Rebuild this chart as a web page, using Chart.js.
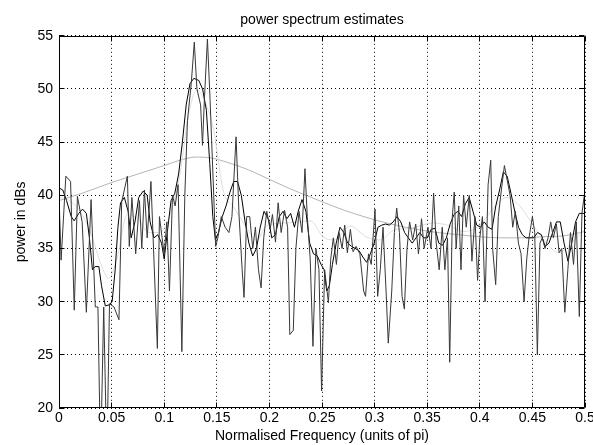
<!DOCTYPE html>
<html>
<head>
<meta charset="utf-8">
<title>power spectrum estimates</title>
<script src="https://cdn.jsdelivr.net/npm/chart.js@4.4.1/dist/chart.umd.min.js"></script>
<style>
  html, body { margin: 0; padding: 0; background: #fff; }
  #wrap { width: 593px; height: 445px; }
</style>
</head>
<body>
<div id="wrap"><canvas id="psd" width="593" height="445"></canvas></div>
<script>
/* power spectrum estimates — four estimates of the same signal, in dB,
 * against normalised frequency (units of pi). */

// axes
var xTicks = [0, 0.05, 0.1, 0.15, 0.2, 0.25, 0.3, 0.35, 0.4, 0.45, 0.5];
var xTickLabels = ['0', '0.05', '0.1', '0.15', '0.2', '0.25', '0.3', '0.35', '0.4', '0.45', '0.5'];
var yTicks = [20, 25, 30, 35, 40, 45, 50, 55];
var yTickLabels = ['20', '25', '30', '35', '40', '45', '50', '55'];

// raw periodogram (spiky, dark grey)
var perFreq = [
  0, 0.002, 0.0065, 0.011, 0.0145, 0.0175, 0.022, 0.026, 0.0305, 0.0345, 0.037, 0.0395, 0.0425, 0.0455, 0.048,
  0.0523, 0.057, 0.0596, 0.065, 0.0668, 0.0693, 0.0729, 0.0765, 0.0787, 0.0812, 0.0838, 0.0874, 0.0935, 0.0955, 0.098,
  0.1, 0.1025, 0.105, 0.1079, 0.1104, 0.1132, 0.1168, 0.1196, 0.1221, 0.1257, 0.1286, 0.1311, 0.1346, 0.1364, 0.1382,
  0.1411, 0.1436, 0.1471, 0.1489, 0.151, 0.1543, 0.1579, 0.1615, 0.1644, 0.1683, 0.1712, 0.1741, 0.1759, 0.1784, 0.1813,
  0.1842, 0.1867, 0.1896, 0.1921, 0.1946, 0.1975, 0.2007, 0.2029, 0.2058, 0.2083, 0.2112, 0.2144, 0.2173, 0.2194, 0.2227,
  0.2252, 0.2281, 0.231, 0.2338, 0.236, 0.2388, 0.2414, 0.2442, 0.2471, 0.2496, 0.2525, 0.2561, 0.2583, 0.2608, 0.2637,
  0.2662, 0.2691, 0.2716, 0.2741, 0.277, 0.2795, 0.2824, 0.286, 0.2896, 0.2914, 0.2942, 0.2968, 0.3004, 0.3029, 0.3054,
  0.308, 0.3109, 0.313, 0.3163, 0.3188, 0.321, 0.3236, 0.3261, 0.3283, 0.3308, 0.3333, 0.3362, 0.3391, 0.3417, 0.3446,
  0.3471, 0.3507, 0.3536, 0.3561, 0.3586, 0.3614, 0.3643, 0.3668, 0.3693, 0.3714, 0.3739, 0.3757, 0.3775, 0.38, 0.3821,
  0.3846, 0.3871, 0.39, 0.3925, 0.3954, 0.3979, 0.4, 0.4025, 0.405, 0.4079, 0.4104, 0.4122, 0.4151, 0.4176, 0.4205,
  0.4234, 0.4259, 0.4288, 0.4313, 0.4338, 0.4367, 0.4392, 0.4421, 0.4446, 0.4468, 0.45, 0.4522, 0.4547, 0.4572, 0.4594,
  0.462, 0.4649, 0.4674, 0.4699, 0.4728, 0.4754, 0.4779, 0.4808, 0.4837, 0.4862, 0.4891, 0.4917, 0.4946, 0.4971, 0.5
];
var perPow = [
  40, 33.9, 41.8, 41.3, 29.2, 39.9, 37.5, 29, 39.6, 29.5, 29.5, 15, 29.5, 15, 29.8,
  29.5, 28.3, 39.4, 41.8, 35.2, 39.8, 34.5, 39.5, 35, 40.5, 36, 41.3, 25.6, 38, 36,
  34.5, 37.5, 31, 40, 39, 41, 25.3, 40, 47, 50.5, 54.4, 50, 48.5, 44.7, 49,
  54.7, 49, 40, 35.2, 36, 38, 37, 36.5, 38, 45.5, 38, 33, 30.4, 38, 38,
  35, 37, 33, 31.3, 36, 38.5, 36.8, 38.2, 35.6, 39.3, 36.5, 38.6, 37, 26.9, 27.3,
  35, 38.5, 36.5, 42.5, 38, 34, 25.8, 35, 33, 21.6, 33, 29.9, 34, 36, 33.5,
  36.5, 35, 37.2, 34.6, 36.8, 34.7, 35.2, 34.5, 31, 30.5, 34.5, 33.5, 38.7, 30.5, 33,
  37, 31, 26.1, 31, 36.5, 38.8, 36.5, 30.5, 29.3, 35, 37.5, 35.8, 37.3, 34.5, 37.8,
  35, 37, 35, 40.2, 35.5, 33, 37, 33, 36, 24.3, 38, 40.3, 35, 39, 33,
  40, 37, 40, 33.8, 38, 32, 36, 38, 30, 41, 43.3, 35, 31.6, 38, 40.5,
  42.8, 41.5, 40, 37, 38.5, 35.5, 34.5, 30, 34, 36, 38, 36.5, 25, 35.5, 36,
  35, 36, 37.5, 36, 37.3, 34.6, 35, 29, 33, 36.5, 33.5, 37.5, 28.6, 38.3, 40.5
];

// windowed estimate (black, moderately smooth)
var winFreq = [
  0, 0.0036, 0.0072, 0.0116, 0.0144, 0.0188, 0.0224, 0.026, 0.0289, 0.0318, 0.0343, 0.0379, 0.0404, 0.044, 0.0477,
  0.0505, 0.0534, 0.056, 0.0585, 0.0621, 0.0657, 0.0686, 0.0722, 0.0758, 0.0801, 0.0838, 0.0866, 0.0903, 0.0939, 0.0975,
  0.1, 0.1029, 0.1065, 0.1101, 0.1137, 0.1173, 0.1209, 0.1245, 0.1282, 0.1329, 0.1365, 0.1401, 0.1433, 0.1462, 0.1487,
  0.1516, 0.1552, 0.1588, 0.1625, 0.1661, 0.1697, 0.1733, 0.1769, 0.1805, 0.1841, 0.1877, 0.1913, 0.1949, 0.1993, 0.2022,
  0.2058, 0.2094, 0.213, 0.2166, 0.2202, 0.2238, 0.2274, 0.231, 0.2347, 0.2383, 0.2419, 0.2455, 0.2491, 0.252, 0.2545,
  0.257, 0.2599, 0.2635, 0.2671, 0.2708, 0.2744, 0.278, 0.2816, 0.2852, 0.2888, 0.2924, 0.296, 0.2996, 0.3032, 0.3069,
  0.3105, 0.3141, 0.3177, 0.3213, 0.3249, 0.3285, 0.3321, 0.3357, 0.3394, 0.343, 0.3466, 0.3502, 0.3538, 0.3574, 0.361,
  0.3646, 0.3682, 0.3718, 0.3755, 0.3791, 0.3827, 0.3863, 0.3899, 0.3935, 0.3971, 0.4007, 0.4043, 0.4079, 0.4116, 0.4152,
  0.4188, 0.4224, 0.426, 0.4296, 0.4332, 0.4368, 0.4404, 0.444, 0.4477, 0.4513, 0.4549, 0.4585, 0.4621, 0.4657, 0.4693,
  0.4729, 0.4765, 0.4801, 0.4838, 0.4874, 0.491, 0.4946, 0.4982, 0.5
];
var winPow = [
  40.7, 40.5, 39.5, 38, 37.6, 38.3, 38.7, 38.3, 36, 33, 33.3, 33.3, 31.5, 29.6, 29.7,
  30, 33, 37, 39.3, 39.8, 38.5, 36, 37.5, 39.8, 40.4, 40, 37.5, 36, 36.3, 35.5,
  34, 36.5, 39.5, 40.2, 42, 45, 48.5, 50.5, 51, 50.8, 50, 48, 43, 38, 35.8,
  36.5, 38, 39, 40.3, 41.3, 41.3, 40, 37.5, 35.5, 34.3, 35, 37, 38.5, 37.7, 36,
  36.3, 38, 38.5, 37.8, 38.3, 37, 38.5, 39.6, 38.5, 35.5, 34.5, 34.3, 33.5, 33, 31,
  31.5, 33.5, 35.5, 37, 36.5, 35.5, 35.2, 35, 34.8, 34.2, 33.7, 34.5, 35.5, 37, 37.2,
  37.3, 37.2, 37.5, 38, 37.5, 36.5, 36, 35.5, 36, 36.5, 36, 36, 36.8, 36.9, 35.5,
  35.3, 36, 37.3, 38.2, 38.5, 38, 39.2, 39.8, 38.5, 37.2, 37, 37.5, 37, 36.8, 39,
  40.5, 42.2, 41.8, 40.2, 38.5, 37, 36.3, 36, 36, 36, 36.5, 36.3, 35.2, 35.5, 36.5,
  37.5, 37.5, 35.5, 33.8, 35.5, 37.5, 38.3, 38.3, 38.3
];

// parametric (AR) estimate (light grey, very smooth)
var arFreq = [0, 0.025, 0.05, 0.075, 0.1, 0.115, 0.13, 0.145, 0.16, 0.18, 0.2, 0.22, 0.24, 0.26, 0.28, 0.3, 0.32, 0.34, 0.36, 0.38, 0.4, 0.42, 0.44, 0.46, 0.48, 0.5];
var arPow = [39.5, 40.3, 41.2, 42, 42.8, 43.3, 43.6, 43.5, 43.1, 42.4, 41.5, 40.6, 39.8, 39, 38.3, 37.7, 37.2, 36.8, 36.5, 36.3, 36.1, 36, 36, 36.1, 36.2, 36.6];

// averaged estimate (very light grey)
var avgFreq = [
  0, 0.01, 0.02, 0.03, 0.04, 0.047, 0.055, 0.065, 0.075, 0.085, 0.095, 0.105, 0.115, 0.123, 0.131,
  0.14, 0.147, 0.156, 0.166, 0.178, 0.188, 0.197, 0.216, 0.229, 0.239, 0.251, 0.261, 0.277, 0.292, 0.305,
  0.318, 0.334, 0.356, 0.369, 0.385, 0.4, 0.413, 0.425, 0.438, 0.452, 0.465, 0.475, 0.488, 0.5
];
var avgPow = [
  39.8, 39.5, 38.5, 36.5, 33.5, 32.2, 34, 38.2, 37.8, 36.5, 36.5, 38, 42, 47.5, 49.9,
  48.5, 46.2, 40.5, 38.9, 37, 35.8, 37.1, 37.4, 37.5, 37.6, 36.1, 35.8, 37.1, 36.1, 35.8,
  36.7, 36.9, 37.4, 37.2, 36.6, 37.2, 38.8, 39.8, 39, 37, 35.3, 34.6, 35.6, 36.8
];

function pairs(xs, ys) {
  return xs.map(function (x, i) { return { x: x, y: ys[i] }; });
}

/* MATLAB-style box: solid frame with short inward tick marks on all four sides */
var TICK_LEN = 5;
var boxPlugin = {
  id: 'matlabBox',
  afterDatasetsDraw: function (chart) {
    var a = chart.chartArea, ctx = chart.ctx;
    var xs = chart.scales.x, ys = chart.scales.y;
    var L = Math.round(a.left) + 0.5, R = Math.round(a.right) - 0.5;
    var T = Math.round(a.top) + 0.5, B = Math.round(a.bottom) - 0.5;
    ctx.save();
    ctx.strokeStyle = '#000';
    ctx.lineWidth = 1;
    ctx.beginPath();
    ctx.rect(L, T, R - L, B - T);
    xs.ticks.forEach(function (t) {
      var px = Math.round(xs.getPixelForValue(t.value) - 0.5) + 0.5;
      ctx.moveTo(px, B); ctx.lineTo(px, B - TICK_LEN);
      ctx.moveTo(px, T); ctx.lineTo(px, T + TICK_LEN);
    });
    ys.ticks.forEach(function (t) {
      var py = Math.round(ys.getPixelForValue(t.value) - 0.5) + 0.5;
      ctx.moveTo(L, py); ctx.lineTo(L + TICK_LEN, py);
      ctx.moveTo(R, py); ctx.lineTo(R - TICK_LEN, py);
    });
    ctx.stroke();
    ctx.restore();
  }
};

(function () {
  'use strict';

  Chart.defaults.font.family = "'Liberation Sans', Arial, sans-serif";
  Chart.defaults.font.size = 14;
  Chart.defaults.color = '#000';

  var dotted = {
    grid: { color: '#000', lineWidth: 1, drawTicks: false, borderDash: [1, 3] },
    border: { display: false, dash: [1, 3] }
  };

  new Chart(document.getElementById('psd').getContext('2d'), {
    type: 'line',
    data: {
      datasets: [
        { label: 'periodogram', data: pairs(perFreq, perPow), borderColor: '#383838', borderWidth: 1, tension: 0 },
        { label: 'windowed', data: pairs(winFreq, winPow), borderColor: '#000000', borderWidth: 1, tension: 0 },
        { label: 'averaged', data: pairs(avgFreq, avgPow), borderColor: '#dedede', borderWidth: 1, cubicInterpolationMode: 'monotone' },
        { label: 'AR model', data: pairs(arFreq, arPow), borderColor: '#b4b4b4', borderWidth: 1, cubicInterpolationMode: 'monotone' }
      ]
    },
    options: {
      responsive: false,
      animation: false,
      events: [],
      elements: { point: { radius: 0 } },
      layout: { padding: { left: 0, right: 8, top: 0, bottom: 0 } },
      plugins: {
        legend: { display: false },
        tooltip: { enabled: false },
        title: {
          display: true,
          fullSize: false,
          text: 'power spectrum estimates',
          font: { size: 14, weight: 'normal' },
          color: '#000',
          padding: { top: 12, bottom: 7 }
        }
      },
      scales: {
        x: {
          type: 'linear',
          min: 0,
          max: 0.5,
          grid: dotted.grid,
          border: dotted.border,
          afterBuildTicks: function (s) { s.ticks = xTicks.map(function (v) { return { value: v }; }); },
          afterFit: function (s) { s.height = 37; s.paddingLeft = 0; s.paddingRight = 0; },
          ticks: {
            maxRotation: 0,
            autoSkip: false,
            padding: 2,
            callback: function (v, i) { return xTickLabels[i]; }
          },
          title: { display: true, text: 'Normalised Frequency (units of pi)', padding: { top: 0, bottom: 0 } }
        },
        y: {
          min: 20,
          max: 55,
          grid: dotted.grid,
          border: dotted.border,
          afterBuildTicks: function (s) { s.ticks = yTicks.map(function (v) { return { value: v }; }); },
          afterFit: function (s) { s.width = 59; s.paddingTop = 0; s.paddingBottom = 0; },
          ticks: {
            padding: 6,
            autoSkip: false,
            callback: function (v, i) { return yTickLabels[i]; }
          },
          title: { display: true, text: 'power in dBs', padding: { top: 13, bottom: 0 } }
        }
      }
    },
    plugins: [boxPlugin]
  });
})();
</script>
</body>
</html>
